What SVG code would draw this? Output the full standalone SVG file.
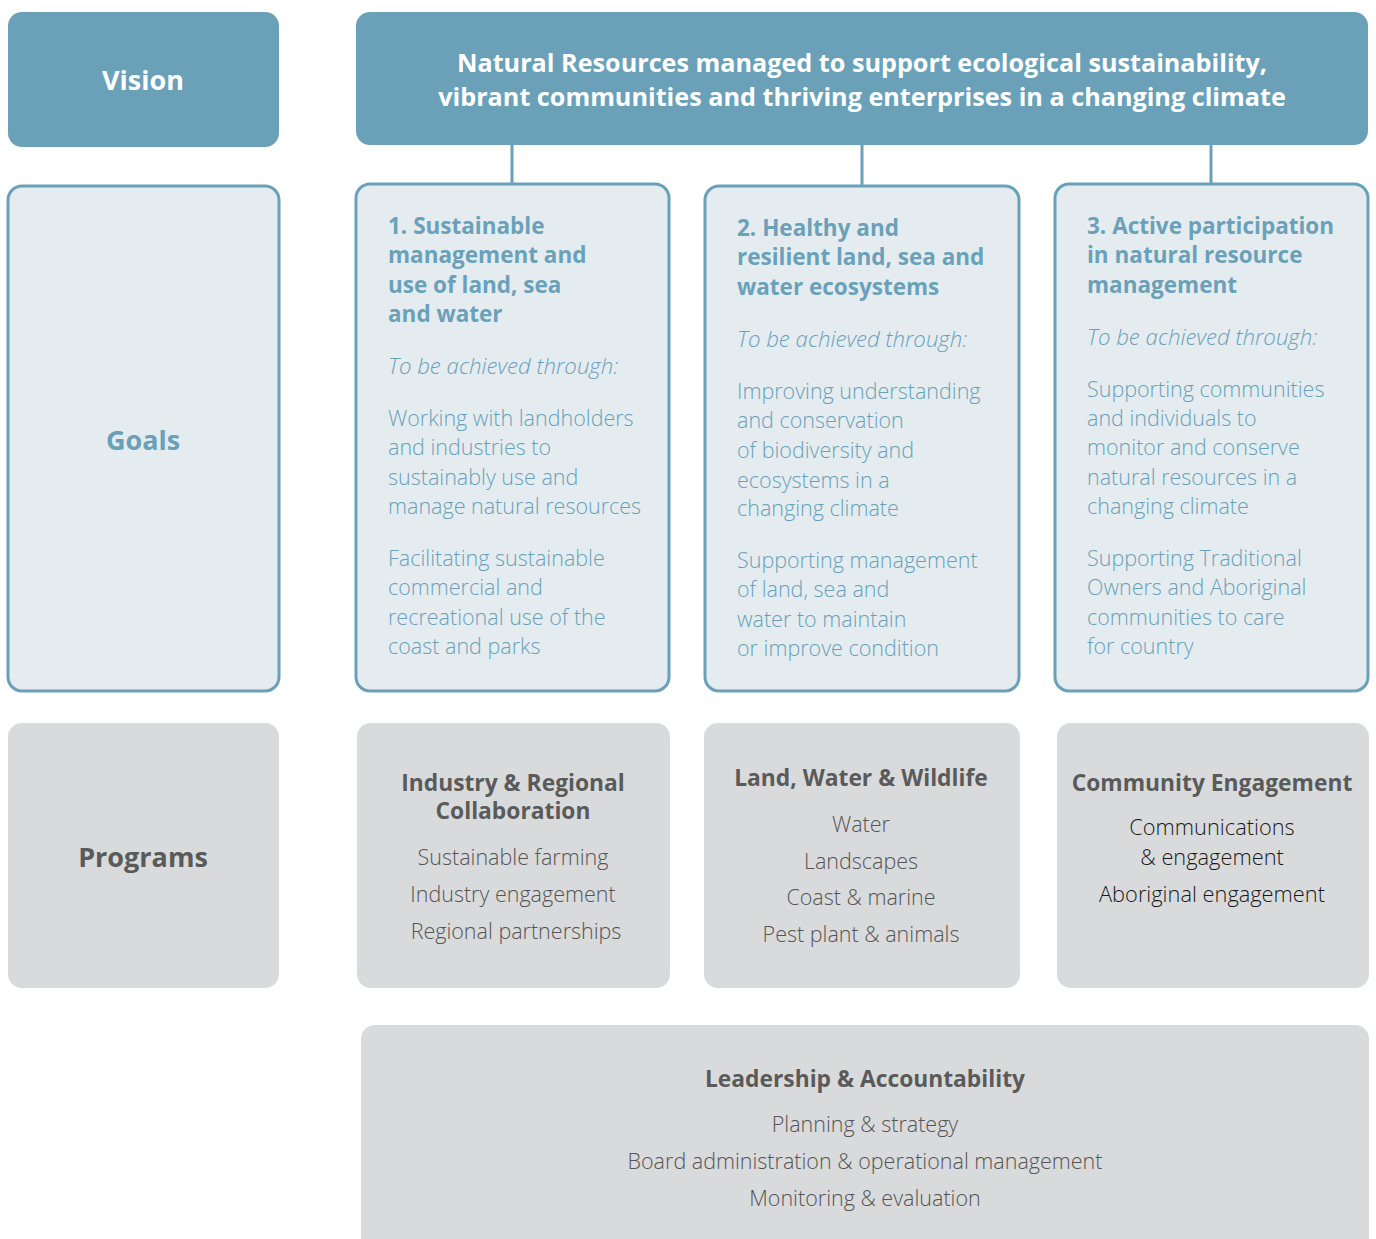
<svg xmlns="http://www.w3.org/2000/svg" width="1376" height="1239" viewBox="0 0 1376 1239">
  <style>
    text { font-family: "Open Sans", "Noto Sans", "Liberation Sans", sans-serif; }
    .vis { fill: #6aa1b9; }
    .goal { fill: #e4ecf0; stroke: #6aa1b9; stroke-width: 3; }
    .prog { fill: #d9dadc; }
    .wt { fill: #ffffff; font-weight: 700; font-size: 25.2px; }
    .lab { font-weight: 700; font-size: 27px; text-anchor: middle; }
    .gh { fill: #6aa1b9; font-weight: 700; font-size: 22.5px; }
    .gi { fill: #6aa1b9; font-weight: 300; font-style: italic; font-size: 22.2px; }
    .gb { fill: #6aa1b9; font-weight: 300; font-size: 21.5px; }
    .ph { fill: #5a5a5a; font-weight: 700; font-size: 22.8px; text-anchor: middle; }
    .pi { fill: #555555; font-weight: 300; font-size: 21.5px; text-anchor: middle; }
    .pk { fill: #1a1a1a; font-weight: 300; font-size: 21.8px; text-anchor: middle; }
    .conn { stroke: #6aa1b9; stroke-width: 3; fill: none; }
  </style>

  <!-- vision row -->
  <g id="vision-label">
    <rect class="vis" x="8" y="12" width="271" height="135" rx="14"/>
    <text class="wt lab" x="143" y="90">Vision</text>
  </g>
  <g id="vision">
    <rect class="vis" x="356" y="12" width="1012" height="133" rx="14"/>
    <text class="wt" x="862" y="72" text-anchor="middle">Natural Resources managed to support ecological sustainability,</text>
    <text class="wt" x="862" y="106" text-anchor="middle">vibrant communities and thriving enterprises in a changing climate</text>
  </g>

  <!-- links from vision to goals -->
  <g id="connectors">
    <line class="conn" x1="512" y1="145" x2="512" y2="185"/>
    <line class="conn" x1="862" y1="145" x2="862" y2="187"/>
    <line class="conn" x1="1211" y1="145" x2="1211" y2="185"/>
  </g>

  <!-- goals row -->
  <g id="goals-label">
    <rect class="goal" x="8" y="186" width="271" height="505" rx="14"/>
    <text class="lab" x="143" y="450" fill="#6aa1b9">Goals</text>
  </g>

  <g id="goal-1">
    <rect class="goal" x="356" y="184" width="313" height="507" rx="14"/>
    <text class="gh" x="388" y="234">1. Sustainable</text>
    <text class="gh" x="388" y="263">management and</text>
    <text class="gh" x="388" y="293">use of land, sea</text>
    <text class="gh" x="388" y="322">and water</text>
    <text class="gi" x="388" y="374">To be achieved through:</text>
    <text class="gb" x="388" y="426">Working with landholders</text>
    <text class="gb" x="388" y="455">and industries to</text>
    <text class="gb" x="388" y="485">sustainably use and</text>
    <text class="gb" x="388" y="514">manage natural resources</text>
    <text class="gb" x="388" y="566">Facilitating sustainable</text>
    <text class="gb" x="388" y="595">commercial and</text>
    <text class="gb" x="388" y="625">recreational use of the</text>
    <text class="gb" x="388" y="654">coast and parks</text>
  </g>

  <g id="goal-2">
    <rect class="goal" x="705" y="186" width="314" height="505" rx="14"/>
    <text class="gh" x="737" y="236">2. Healthy and</text>
    <text class="gh" x="737" y="265">resilient land, sea and</text>
    <text class="gh" x="737" y="295">water ecosystems</text>
    <text class="gi" x="737" y="347">To be achieved through:</text>
    <text class="gb" x="737" y="399">Improving understanding</text>
    <text class="gb" x="737" y="428">and conservation</text>
    <text class="gb" x="737" y="458">of biodiversity and</text>
    <text class="gb" x="737" y="488">ecosystems in a</text>
    <text class="gb" x="737" y="516">changing climate</text>
    <text class="gb" x="737" y="568">Supporting management</text>
    <text class="gb" x="737" y="597">of land, sea and</text>
    <text class="gb" x="737" y="627">water to maintain</text>
    <text class="gb" x="737" y="656">or improve condition</text>
  </g>

  <g id="goal-3">
    <rect class="goal" x="1055" y="184" width="313" height="507" rx="14"/>
    <text class="gh" x="1087" y="234">3. Active participation</text>
    <text class="gh" x="1087" y="263">in natural resource</text>
    <text class="gh" x="1087" y="293">management</text>
    <text class="gi" x="1087" y="345">To be achieved through:</text>
    <text class="gb" x="1087" y="397">Supporting communities</text>
    <text class="gb" x="1087" y="426">and individuals to</text>
    <text class="gb" x="1087" y="455">monitor and conserve</text>
    <text class="gb" x="1087" y="485">natural resources in a</text>
    <text class="gb" x="1087" y="514">changing climate</text>
    <text class="gb" x="1087" y="566">Supporting Traditional</text>
    <text class="gb" x="1087" y="595">Owners and Aboriginal</text>
    <text class="gb" x="1087" y="625">communities to care</text>
    <text class="gb" x="1087" y="654">for country</text>
  </g>

  <!-- programs row -->
  <g id="programs-label">
    <rect class="prog" x="8" y="723" width="271" height="265" rx="14"/>
    <text class="lab" x="143" y="867" fill="#5a5a5a">Programs</text>
  </g>

  <g id="program-industry">
    <rect class="prog" x="357" y="723" width="313" height="265" rx="14"/>
    <text class="ph" x="513" y="791">Industry &amp; Regional</text>
    <text class="ph" x="513" y="819">Collaboration</text>
    <text class="pi" x="513" y="865">Sustainable farming</text>
    <text class="pi" x="513" y="902">Industry engagement</text>
    <text class="pi" x="516" y="939">Regional partnerships</text>
  </g>

  <g id="program-land">
    <rect class="prog" x="704" y="723" width="316" height="265" rx="14"/>
    <text class="ph" x="861" y="786">Land, Water &amp; Wildlife</text>
    <text class="pi" x="861" y="832">Water</text>
    <text class="pi" x="861" y="869">Landscapes</text>
    <text class="pi" x="861" y="905">Coast &amp; marine</text>
    <text class="pi" x="861" y="942">Pest plant &amp; animals</text>
  </g>

  <g id="program-community">
    <rect class="prog" x="1057" y="723" width="312" height="265" rx="14"/>
    <text class="ph" x="1212" y="791">Community Engagement</text>
    <text class="pk" x="1212" y="835">Communications</text>
    <text class="pk" x="1212" y="865">&amp; engagement</text>
    <text class="pk" x="1212" y="902">Aboriginal engagement</text>
  </g>

  <g id="program-leadership">
    <rect class="prog" x="361" y="1025" width="1008" height="240" rx="14"/>
    <text class="ph" x="865" y="1087">Leadership &amp; Accountability</text>
    <text class="pi" x="865" y="1132">Planning &amp; strategy</text>
    <text class="pi" x="865" y="1169">Board administration &amp; operational management</text>
    <text class="pi" x="865" y="1206">Monitoring &amp; evaluation</text>
  </g>
</svg>
